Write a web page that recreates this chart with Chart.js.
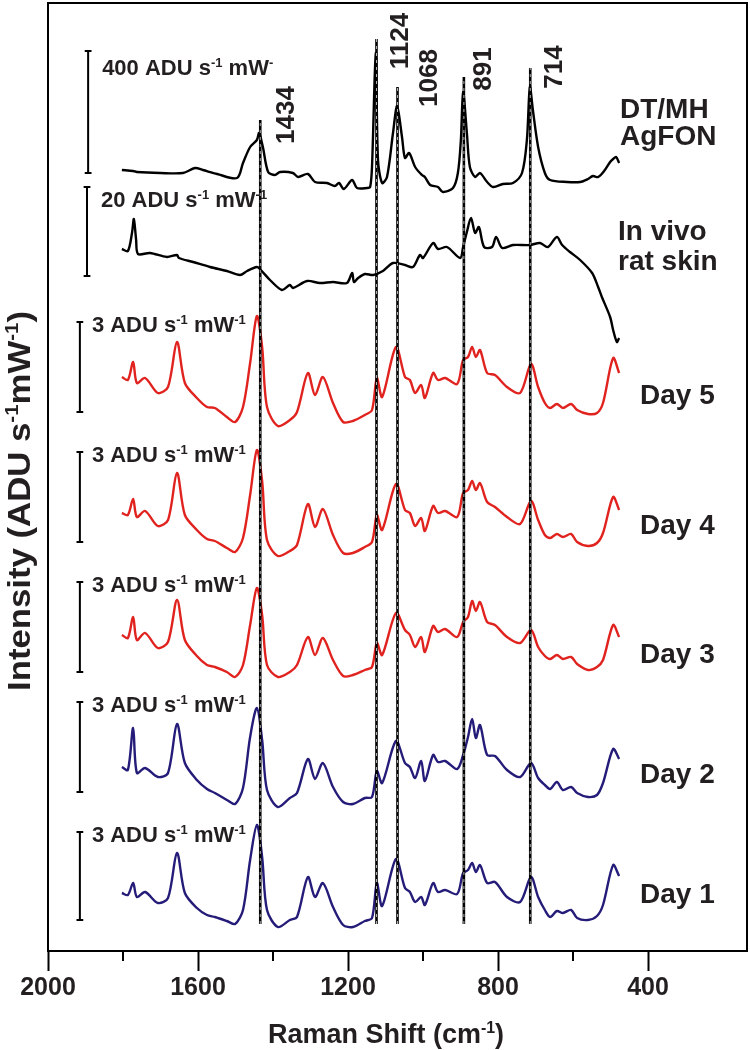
<!DOCTYPE html>
<html>
<head>
<meta charset="utf-8">
<script src="https://cdn.jsdelivr.net/npm/chart.js@4.4.1/dist/chart.umd.min.js"></script>
<style>
  html, body { margin: 0; padding: 0; background: #fff; }
  #wrap { width: 750px; height: 1050px; }
</style>
</head>
<body>
<div id="wrap"><canvas id="raman" width="750" height="1050"></canvas></div>
<script>
const FONT = '"Liberation Sans", Arial, sans-serif';

// raman shift grid (cm-1) used by the five daily spectra
const dayShift = [1803,1787,1773,1763,1741,1707,1680,1656,1635,1603,1576,1555,1523,1501,1480,1461,1443,1429,1416,1387,1355,1336,1307,1288,1267,1240,1213,1187,1155,1136,1123,1109,1072,1048,1035,1021,1005,995,973,960,941,909,893,880,869,859,848,829,808,776,741,712,693,675,661,643,627,605,589,560,536,520,493,477];

// intensities, already stacked (offset units, bottom of plot = 0)
const day5 = [574,571,589,568,573,558,564,609,568,553,544,543,534,529,544,588,635,604,544,525,531,539,578,556,574,548,529,530,536,541,573,554,604,574,571,558,566,553,578,571,573,567,591,594,604,594,601,578,576,564,558,587,564,548,543,547,543,547,541,537,538,548,593,578];
const day4 = [438,436,452,434,440,425,431,478,436,421,412,410,403,399,413,456,501,470,411,395,400,406,447,424,442,416,398,398,404,409,436,421,467,441,438,425,433,420,445,438,440,434,458,461,470,461,468,449,444,434,427,450,431,416,413,417,414,417,409,405,408,418,454,441];
const day3 = [316,313,334,311,318,303,309,351,311,295,286,284,279,274,286,326,363,336,286,274,279,286,314,296,313,291,275,276,281,284,308,296,338,321,316,304,314,299,325,319,322,314,329,334,350,340,349,329,326,314,308,321,304,295,292,296,292,294,287,281,284,291,326,314];
const day2 = [184,181,223,178,183,174,178,227,188,171,162,158,151,147,163,214,243,211,161,144,153,158,192,172,188,164,149,147,153,154,180,168,210,188,184,173,190,170,196,189,190,182,196,214,232,213,226,196,195,181,174,188,173,166,162,169,161,164,158,154,156,168,202,192];
const day1 = [58,56,68,54,59,48,53,98,58,43,36,34,30,27,41,91,126,94,41,24,31,34,74,54,68,44,26,24,30,33,68,45,92,63,59,49,54,46,68,59,61,57,78,81,88,79,86,68,69,54,49,74,54,41,34,40,38,41,33,31,35,46,86,75];

// DT/MH AgFON reference spectrum
const agfonShift = [1803,1773,1763,1701,1640,1608,1587,1549,1496,1480,1461,1443,1437,1427,1413,1395,1381,1347,1333,1307,1288,1256,1235,1224,1211,1189,1176,1149,1141,1136,1126,1120,1109,1096,1080,1069,1056,1048,1037,1021,1003,995,981,960,947,920,907,899,893,883,875,861,848,829,813,787,760,736,723,715,707,693,675,661,616,581,560,547,533,515,501,493,485,477];
const agfon = [781,780,779,778,778,783,781,777,773,788,804,811,818,804,779,776,779,778,774,777,769,768,765,768,762,771,763,763,764,784,898,791,768,774,818,845,814,793,798,784,776,774,766,764,759,763,778,811,859,818,784,774,778,769,764,767,768,778,811,864,841,804,778,771,769,769,772,775,774,781,789,792,794,788];

// in vivo rat skin spectrum
const skinShift = [1803,1787,1776,1771,1765,1760,1728,1683,1656,1651,1613,1568,1523,1488,1469,1443,1435,1408,1376,1355,1347,1309,1275,1240,1203,1189,1184,1173,1155,1133,1107,1080,1048,1027,1008,1000,973,960,936,901,893,883,872,861,851,837,816,805,789,760,715,688,667,643,629,608,581,549,533,523,501,493,483,477];
const skin = [702,700,718,732,711,697,698,694,696,693,689,684,680,676,680,684,682,671,661,666,663,670,668,669,668,678,669,673,677,676,680,688,686,684,696,693,708,702,704,693,704,719,733,718,724,704,704,714,703,706,706,708,704,714,706,699,691,678,664,654,634,621,609,613];

const peakLines = [1434, 1124, 1068, 891, 714];
const peakTop = [831, 912, 864, 874, 883];
const peakBottom = 27;

// intensity scale bars: x position, top, bottom, label value
const barShift = [1893, 1896, 1915, 1915, 1915, 1915, 1915];
const barTop = [900, 764, 629, 499, 369, 249, 119];
const barBottom = [778, 675, 539, 409, 279, 159, 31];
const barValue = ['400', '20', '3', '3', '3', '3', '3'];

const tickValues = [2000, 1800, 1600, 1400, 1200, 1000, 800, 600, 400];

const RED = '#e0231f';
const BLUE = '#241c78';

function pts(xs, ys) {
    return xs.map((x, i) => ({ x: x, y: ys[i] }));
}

function spectrum(label, xs, ys, color) {
    return {
        label: label,
        data: pts(xs, ys),
        borderColor: color,
        borderWidth: 2.4,
        pointRadius: 0,
        tension: 0.3,
        fill: false,
        order: 3
    };
}

const datasets = [];
peakLines.forEach((p, i) => {
    datasets.push({
        data: [{ x: p, y: peakBottom }, { x: p, y: peakTop[i] }],
        borderColor: '#fff', borderWidth: 0.7, borderDash: [3, 4],
        pointRadius: 0, tension: 0, order: 0
    });
    datasets.push({
        data: [{ x: p, y: peakBottom }, { x: p, y: peakTop[i] }],
        borderColor: '#000', borderWidth: 2.6,
        pointRadius: 0, tension: 0, order: 1
    });
});
datasets.push(spectrum('DT/MH AgFON', agfonShift, agfon, '#000'));
datasets.push(spectrum('In vivo rat skin', skinShift, skin, '#000'));
datasets.push(spectrum('Day 5', dayShift, day5, RED));
datasets.push(spectrum('Day 4', dayShift, day4, RED));
datasets.push(spectrum('Day 3', dayShift, day3, RED));
datasets.push(spectrum('Day 2', dayShift, day2, BLUE));
datasets.push(spectrum('Day 1', dayShift, day1, BLUE));
barShift.forEach((x, i) => {
    const t = barTop[i], b = barBottom[i];
    datasets.push({
        data: [{ x: x + 9, y: t }, { x: x - 9, y: t }, { x: x, y: t }, { x: x, y: b }, { x: x + 9, y: b }, { x: x - 9, y: b }],
        borderColor: '#000', borderWidth: 2, pointRadius: 0, tension: 0, order: 2
    });
});

// text with superscripts: parts = [[text, isSup], ...]
function richWidth(ctx, parts, size) {
    let w = 0;
    parts.forEach(([t, sup]) => {
        ctx.font = 'bold ' + (sup ? size * 0.59 : size) + 'px ' + FONT;
        w += ctx.measureText(t).width;
    });
    return w;
}
function drawRich(ctx, parts, x, y, size) {
    parts.forEach(([t, sup]) => {
        ctx.font = 'bold ' + (sup ? size * 0.59 : size) + 'px ' + FONT;
        ctx.fillText(t, x, sup ? y - size * 0.36 : y);
        x += ctx.measureText(t).width;
    });
}

const textPlugin = {
    id: 'ramanText',
    afterDraw(chart) {
        const ctx = chart.ctx;
        const ca = chart.chartArea;
        const xs = chart.scales.x;
        const ys = chart.scales.y;
        ctx.save();
        ctx.fillStyle = '#231f20';
        ctx.strokeStyle = '#000';
        ctx.textAlign = 'left';
        ctx.textBaseline = 'alphabetic';

        // frame
        ctx.lineWidth = 2;
        ctx.strokeRect(ca.left, ca.top, ca.right - ca.left, ca.bottom - ca.top);
        // minor ticks
        [1800, 1400, 1000, 600].forEach(v => {
            const px = Math.round(xs.getPixelForValue(v));
            ctx.beginPath();
            ctx.moveTo(px, ca.bottom);
            ctx.lineTo(px, ca.bottom + 10);
            ctx.stroke();
        });

        // scale bar labels
        barValue.forEach((v, i) => {
            const px = xs.getPixelForValue(barShift[i]) + (i < 2 ? 14 : 12);
            const py = ys.getPixelForValue(barTop[i]) + 10 + (i === 0 ? 14 : (i === 1 ? 10 : 0));
            const last = i === 0 ? '-' : '-1';
            drawRich(ctx, [[v + ' ADU s', false], ['-1', true], [' mW', false], [last, true]], px, py, 22);
        });

        // peak labels
        ctx.font = 'bold 26px ' + FONT;
        ctx.textAlign = 'center';
        const peakLabelPos = [[284, 115], [398, 41], [427, 78], [481, 69], [552, 67]];
        peakLines.forEach((p, i) => {
            ctx.save();
            ctx.translate(peakLabelPos[i][0] + 9.5, peakLabelPos[i][1]);
            ctx.rotate(-Math.PI / 2);
            ctx.fillText(String(p), 0, 0);
            ctx.restore();
        });

        // spectrum names
        ctx.textAlign = 'left';
        ctx.font = 'bold 28px ' + FONT;
        ctx.fillText('DT/MH', 620, 118);
        ctx.fillText('AgFON', 620, 145);
        ctx.fillText('In vivo', 618, 240);
        ctx.fillText('rat skin', 618, 270);
        const dayBase = [404, 534, 663, 783, 903];
        ['Day 5', 'Day 4', 'Day 3', 'Day 2', 'Day 1'].forEach((d, i) => {
            ctx.fillText(d, 640, dayBase[i]);
        });

        // x axis title
        const xt = [['Raman Shift (cm', false], ['-1', true], [')', false]];
        const xw = richWidth(ctx, xt, 27);
        drawRich(ctx, xt, 386 - xw / 2, 1043, 27);

        // y axis title
        const yt = [['Intensity (ADU s', false], ['-1', true], ['mW', false], ['-1', true], [')', false]];
        const yw = richWidth(ctx, yt, 32);
        ctx.save();
        ctx.translate(30, 501);
        ctx.rotate(-Math.PI / 2);
        ctx.scale(380 / yw, 1);
        drawRich(ctx, yt, -yw / 2, 0, 32);
        ctx.restore();

        ctx.restore();
    }
};

new Chart(document.getElementById('raman'), {
    type: 'line',
    data: { datasets: datasets },
    options: {
        responsive: false,
        animation: false,
        devicePixelRatio: 1,
        layout: { padding: { left: 48, right: 3, top: 3, bottom: 0 } },
        plugins: { legend: { display: false }, tooltip: { enabled: false } },
        scales: {
            x: {
                type: 'linear',
                reverse: true,
                min: 136,
                max: 2000,
                afterBuildTicks: (scale) => {
                    scale.ticks = tickValues.map(v => ({ value: v }));
                },
                afterFit: (scale) => {
                    scale.height = 99;
                    scale.paddingLeft = 0;
                    scale.paddingRight = 0;
                },
                ticks: {
                    autoSkip: false,
                    maxRotation: 0,
                    padding: 2,
                    color: '#231f20',
                    font: { family: FONT, size: 25, weight: 'bold' },
                    callback: (v) => (v % 400 === 0 ? String(v) : '')
                },
                grid: {
                    drawOnChartArea: false,
                    drawTicks: true,
                    tickLength: 20,
                    tickWidth: 2,
                    tickColor: (c) => (c.tick && c.tick.value % 400 === 0 ? '#000' : 'rgba(0,0,0,0)')
                },
                border: { display: false }
            },
            y: {
                type: 'linear',
                min: 0,
                max: 948,
                display: false
            }
        }
    },
    plugins: [textPlugin]
});
</script>
</body>
</html>
